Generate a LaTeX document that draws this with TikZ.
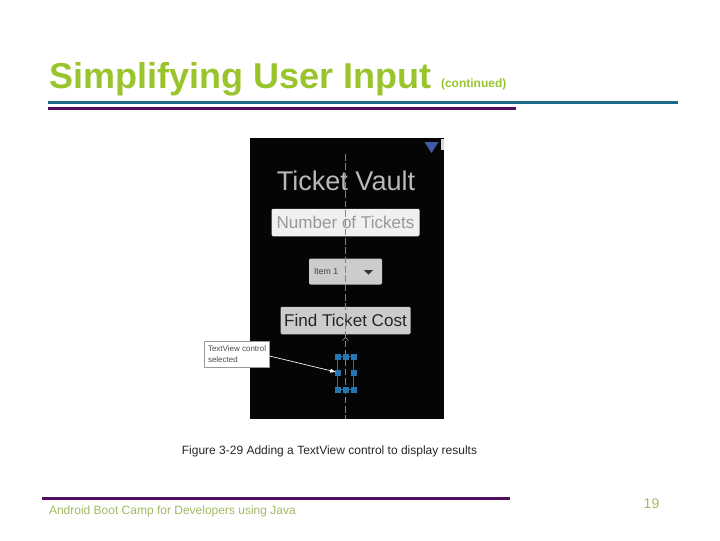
\documentclass[tikz,border=0pt]{standalone}
\usepackage{fontspec}
\setmainfont{Liberation Sans}
\usepackage{tikz}
\usetikzlibrary{arrows}
\definecolor{titlegreen}{RGB}{153,196,44}
\definecolor{footgreen}{RGB}{160,186,100}
\definecolor{rulepurple}{RGB}{84,14,96}
\definecolor{ruleteal}{RGB}{28,104,136}
\definecolor{handleblue}{RGB}{38,118,178}
\definecolor{guidegreen}{RGB}{70,170,85}
\definecolor{markerblue}{RGB}{62,92,165}
\tikzset{
	plain/.style={inner sep=0pt, outer sep=0pt},
	widget/.style={plain, fill=#1, rounded corners=1pt, minimum height=27.5*0.75pt},
	handle/.style={plain, fill=handleblue, minimum size=4.5pt},
}
\begin{document}
\begin{tikzpicture}[x=0.75pt, y=-0.75pt]
	\useasboundingbox (0,0) rectangle (720,540);

	\node[plain, anchor=base west, text=titlegreen, font=\bfseries\fontsize{27}{27}\selectfont] (title) at (49, 88) {Simplifying User Input};
	\node[plain, anchor=base west, text=titlegreen, font=\bfseries\fontsize{9}{9}\selectfont] (cont) at (441, 87) {(continued)};

	\fill[ruleteal] (48, 100.5) rectangle (678, 104);
	\fill[rulepurple] (48, 107) rectangle (516, 110);

	% screen
	\fill[black!98] (250, 138) rectangle (444, 419);
	\fill[markerblue] (424.5, 142) -- (438.5, 142) -- (431.5, 153) -- cycle;
	\fill[white!85!black] (441, 139) rectangle (444, 150);

	\node[plain, text=white!72!black, font=\fontsize{20.3}{21}\selectfont] (app) at (346, 181) {Ticket Vault};
	\node[widget=white!94!black, minimum width=148*0.75pt, text=white!60!black, font=\fontsize{12.8}{13}\selectfont] (tickets) at (345.5, 222.5) {Number of Tickets};
	\node[widget=white!80!black, minimum width=73*0.75pt, minimum height=26*0.75pt] (spinner) at (345.5, 271.5) {};
	\node[plain, anchor=west, text=black!75, font=\fontsize{6.5}{7}\selectfont] (item) at (314, 272) {Item 1};
	\fill[black!80] (364, 270) -- (373, 270) -- (368.5, 274.5) -- cycle;
	\node[widget=white!80!black, minimum width=130*0.75pt, text=black!85, font=\fontsize{12.8}{13}\selectfont] (find) at (345.5, 320.5) {Find Ticket Cost};

	% guide line
	\draw[guidegreen, dash pattern=on 5pt off 2pt, line width=0.7pt] (345.5, 154) -- (345.5, 419);
	\draw[white!65!black, line width=0.4pt] (342.5, 340.5) -- (345.5, 337.5) -- (348.5, 340.5);

	% selected control
	\draw[handleblue, line width=1pt] (337.5, 356.5) rectangle (353.5, 389.5);
	\foreach \hx/\hy in {337.5/356.5, 345.5/356.5, 353.5/356.5, 337.5/372.5, 353.5/372.5, 337.5/389.5, 345.5/389.5, 353.5/389.5}
		\node[handle] at (\hx, \hy) {};
	\coordinate (sel) at (336, 372);

	% callout
	\node[plain, fill=white, draw=black!40, line width=0.4pt, minimum width=65*0.75pt, minimum height=26*0.75pt] (call) at (237, 354.5) {};
	\node[plain, anchor=west, align=left, text=black!70, font=\fontsize{6}{8.2}\selectfont] (calltext) at (208, 354) {TextView control\\selected};
	\draw[white, -latex, line width=0.5pt] (call.east |- 0, 356) -- (sel);

	\node[plain, anchor=base, text=black!85, font=\fontsize{9}{9}\selectfont] (caption) at (329.5, 454.5) {Figure 3-29 Adding a TextView control to display results};

	\fill[rulepurple] (42, 497) rectangle (510, 500);
	\node[plain, anchor=base west, text=footgreen, font=\fontsize{9}{9}\selectfont] (foot) at (49, 514) {Android Boot Camp for Developers using Java};
	\node[plain, anchor=base, text=footgreen, font=\fontsize{10.5}{11}\selectfont] (page) at (651.5, 508.5) {19};
\end{tikzpicture}
\end{document}
